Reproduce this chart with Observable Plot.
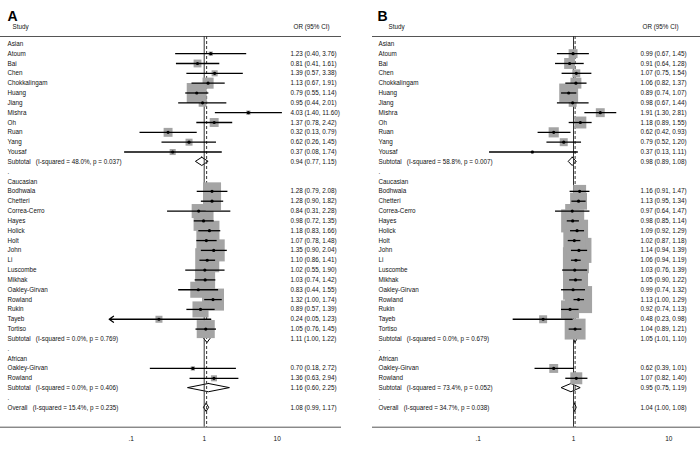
<!DOCTYPE html>
<html><head><meta charset="utf-8">
<script src="https://cdn.jsdelivr.net/npm/d3@7"></script>
<script src="https://cdn.jsdelivr.net/npm/@observablehq/plot@0.6"></script>
<style>
body{margin:0;background:#fff;}
#wrap{display:flex;width:700px;height:449px;overflow:hidden;}
#wrap svg{display:block;}
</style></head><body><div id="wrap"></div>
<script>
// ---------- studies ----------
const groupNames = ["Asian", "Caucasian", "African"];
const asianStudies = ["Atoum","Bai","Chen","Chokkalingam","Huang","Jiang","Mishra","Oh","Ruan","Yang","Yousaf"];
const caucasianStudies = ["Bodhwala","Chetteri","Correa-Cerro","Hayes","Holick","Holt","John","Li","Luscombe","Mikhak","Oakley-Girvan","Rowland","Rukin","Tayeb","Tortiso"];
const africanStudies = ["Oakley-Girvan","Rowland"];

// ---------- panel A: [OR, lower, upper], weights (%) ----------
const asianA = [[1.23,0.40,3.76],[0.81,0.41,1.61],[1.39,0.57,3.38],[1.13,0.67,1.91],[0.79,0.55,1.14],[0.95,0.44,2.01],[4.03,1.40,11.60],[1.37,0.78,2.42],[0.32,0.13,0.79],[0.62,0.26,1.45],[0.37,0.08,1.74]];
const asianWA = [0.3,1.0,0.6,2.0,6.5,1.0,0.3,1.3,1.3,0.8,0.6];
const caucasianA = [[1.28,0.79,2.08],[1.28,0.90,1.82],[0.84,0.31,2.28],[0.98,0.72,1.35],[1.18,0.83,1.66],[1.07,0.78,1.48],[1.35,0.90,2.04],[1.10,0.86,1.41],[1.02,0.55,1.90],[1.03,0.74,1.42],[0.83,0.44,1.55],[1.32,1.00,1.74],[0.89,0.57,1.39],[0.24,0.05,1.23],[1.05,0.76,1.45]];
const caucasianWA = [5.3,5.3,3.2,6.5,6.5,6.5,7.9,9.4,4.2,6.5,4.2,7.9,4.2,0.8,5.3];
const africanA = [[0.70,0.18,2.72],[1.36,0.63,2.94]];
const africanWA = [0.3,0.6];
const subtotalsA = [[0.94,0.77,1.15],[1.11,1.00,1.22],[1.16,0.60,2.25]];
const i2A = ["48.0","0.0","0.0"];
const pA = ["0.037","0.769","0.406"];
const overallA = [1.08,0.99,1.17];
const overallHetA = ["15.4","0.235"];
const arrowsA = ["Caucasian:Tayeb"];

// ---------- panel B ----------
const asianB = [[0.99,0.67,1.45],[0.91,0.64,1.28],[1.07,0.75,1.54],[1.06,0.82,1.37],[0.89,0.74,1.07],[0.98,0.67,1.44],[1.91,1.30,2.81],[1.18,0.89,1.55],[0.62,0.42,0.93],[0.79,0.52,1.20],[0.37,0.13,1.11]];
const asianWB = [1.0,1.5,0.8,1.5,4.5,0.8,1.0,1.8,1.3,0.8,0.1];
const caucasianB = [[1.16,0.91,1.47],[1.13,0.95,1.34],[0.97,0.64,1.47],[0.98,0.85,1.14],[1.09,0.92,1.29],[1.02,0.87,1.18],[1.14,0.94,1.39],[1.06,0.94,1.19],[1.03,0.76,1.39],[1.05,0.90,1.22],[0.99,0.74,1.32],[1.13,1.00,1.29],[0.92,0.74,1.13],[0.48,0.23,0.98],[1.04,0.89,1.21]];
const caucasianWB = [2.1,3.6,2.5,6.7,6.1,6.1,7.9,8.5,6.1,7.9,5.0,9.2,4.1,0.8,5.5];
const africanB = [[0.62,0.39,1.01],[1.07,0.82,1.40]];
const africanWB = [1.0,1.8];
const subtotalsB = [[0.98,0.89,1.08],[1.05,1.01,1.10],[0.95,0.75,1.19]];
const i2B = ["58.8","0.0","73.4"];
const pB = ["0.007","0.679","0.052"];
const overallB = [1.04,1.00,1.08];
const overallHetB = ["34.7","0.038"];
const arrowsB = [];

const tickValues = [0.1, 1, 10];
const tickLabels = [".1", "1", "10"];

// ---------- build rows ----------
const SP = "\u00a0\u00a0\u00a0";
function buildRows(studyLists, estLists, wLists, subs, i2s, ps, overall, overallHet, arrows) {
  const rows = [];
  let i = 0;
  groupNames.forEach((g, gi) => {
    rows.push({row: i++, label: g, kind: "header"});
    studyLists[gi].forEach((s, k) => {
      const [est, lo, hi] = estLists[gi][k];
      rows.push({row: i++, label: s, kind: "study", est, lo, hi, w: wLists[gi][k], arrow: arrows.includes(g + ":" + s)});
    });
    const [est, lo, hi] = subs[gi];
    rows.push({row: i++, label: `Subtotal${SP}(I-squared = ${i2s[gi]}%, p = ${ps[gi]})`, kind: "sub", est, lo, hi});
    rows.push({row: i++, label: ".", kind: "blank"});
  });
  rows.push({row: i++, label: `Overall${SP}(I-squared = ${overallHet[0]}%, p = ${overallHet[1]})`, kind: "sub", est: overall[0], lo: overall[1], hi: overall[2]});
  return rows;
}
const fmt = v => v.toFixed(2);

function panel(rows, overall, o) {
  const studies = rows.filter(d => d.kind === "study");
  const subs = rows.filter(d => d.kind === "sub");
  const h = 0.42;
  const diamonds = subs.flatMap(d => [
    {z: d.row, y: d.row - h, x1: d.est, x2: d.est},
    {z: d.row, y: d.row, x1: d.lo, x2: d.hi},
    {z: d.row, y: d.row + h, x1: d.est, x2: d.est}
  ]);
  return Plot.plot({
    width: 350, height: 449,
    marginTop: 36, marginBottom: 22.3, marginLeft: o.ml, marginRight: o.mr,
    x: {type: "log", domain: [0.1, 10], range: o.xrange},
    y: {domain: [0, 37], range: [43.3, 407.3], axis: null},
    r: {type: "sqrt", domain: [0, 10], range: [0, o.rmax]},
    style: {fontFamily: "'Liberation Sans', Arial, sans-serif", fontSize: "6.3px", color: "#111", background: "#fff"},
    marks: [
      Plot.frame({anchor: "top", stroke: "#555"}),
      Plot.frame({anchor: "bottom", stroke: "#555"}),
      Plot.areaX(diamonds, {y: "y", x1: "x1", x2: "x2", z: "z", fill: "white", stroke: "black", strokeWidth: 1, curve: "linear"}),
      Plot.ruleX([1], {stroke: "#333", strokeWidth: 1}),
      Plot.ruleX([overall[0]], {stroke: "#333", strokeWidth: 1, strokeDasharray: "3,2"}),
      Plot.dot(studies, {x: "est", y: "row", r: "w", symbol: "square", fill: "#a4a4a4", stroke: "none"}),
      Plot.link(studies.filter(d => !d.arrow), {x1: "lo", x2: "hi", y1: "row", y2: "row", stroke: "black", strokeWidth: 1.3}),
      Plot.arrow(studies.filter(d => d.arrow), {x1: "hi", x2: "lo", y1: "row", y2: "row", stroke: "black", strokeWidth: 1.3, headLength: 6, headAngle: 70}),
      Plot.dot(studies, {x: "est", y: "row", r: 1.6, fill: "black"}),
      Plot.text(rows, {y: "row", text: "label", frameAnchor: "left", textAnchor: "start", dx: o.nameDx, fill: "#111"}),
      Plot.text(rows.filter(d => d.est != null), {y: "row", text: d => `${fmt(d.est)} (${fmt(d.lo)}, ${fmt(d.hi)})`, frameAnchor: "left", textAnchor: "start", dx: o.orDx, fill: "#111"}),
      Plot.text(["Study"], {text: d => d, frameAnchor: "top-left", textAnchor: "start", dx: o.studyDx, dy: -12, fill: "#111"}),
      Plot.text(["OR (95% CI)"], {text: d => d, frameAnchor: "top-left", textAnchor: "start", dx: o.orHeadDx, dy: -12, fill: "#111"}),
      Plot.text([o.letter], {text: d => d, frameAnchor: "top-left", textAnchor: "start", dx: o.letterDx, dy: -25, fontSize: 14, fontWeight: "bold", fill: "black"}),
      Plot.axisX({ticks: tickValues, tickFormat: d => tickLabels[tickValues.indexOf(d)], tickSize: 0, tickPadding: 9, fontSize: 6.5})
    ]
  });
}

const rowsA = buildRows([asianStudies, caucasianStudies, africanStudies], [asianA, caucasianA, africanA], [asianWA, caucasianWA, africanWA], subtotalsA, i2A, pA, overallA, overallHetA, arrowsA);
const rowsB = buildRows([asianStudies, caucasianStudies, africanStudies], [asianB, caucasianB, africanB], [asianWB, caucasianWB, africanWB], subtotalsB, i2B, pB, overallB, overallHetB, arrowsB);

const wrap = document.getElementById("wrap");
wrap.appendChild(panel(rowsA, overallA, {ml: 0, mr: 10, xrange: [130.7, 276.7], rmax: 13.98, nameDx: 7, orDx: 290, studyDx: 12, orHeadDx: 293, letter: "A", letterDx: 7}));
wrap.appendChild(panel(rowsB, overallB, {ml: 22, mr: 0, xrange: [477.7 - 350, 668.3 - 350], rmax: 15.9, nameDx: 6, orDx: 268, studyDx: 16, orHeadDx: 270, letter: "B", letterDx: 5}));
</script>
</body></html>
